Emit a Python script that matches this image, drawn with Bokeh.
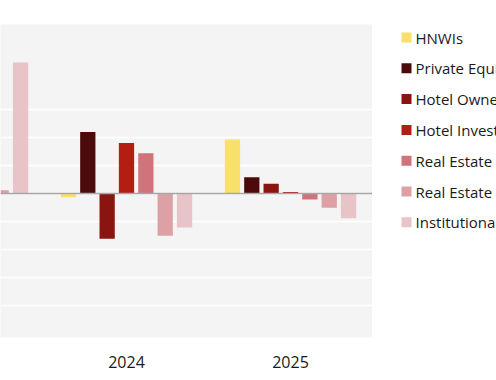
from bokeh.plotting import figure
from bokeh.layouts import row
from bokeh.models import Range1d, Grid, FixedTicker, Span, ColumnDataSource
from bokeh.core.properties import value
from bokeh.embed import file_html
from bokeh.resources import INLINE

nan = float("nan")
years = ["2023", "2024", "2025"]
series = ["HNWIs", "Private Equity", "Hotel Owners/Operators", "Hotel Investors",
          "Real Estate Developers", "Real Estate Funds", "Institutional Investors"]
colors = ["#F9E06B", "#4D0A0A", "#8A1410", "#B41E12", "#D0737A", "#DDA0A5", "#E8C3C7"]

# 2023 values of the first five series lie outside the visible (cropped) area
hnwis = [nan, -1.3, 19.3]
private_equity = [nan, 22.0, 5.8]
hotel_owners = [nan, -16.2, 3.5]
hotel_investors = [nan, 18.0, 0.5]
re_developers = [nan, 14.4, -2.1]
re_funds = [1.2, -15.1, -5.1]
institutional = [46.8, -12.1, -8.8]

values = [hnwis, private_equity, hotel_owners, hotel_investors,
          re_developers, re_funds, institutional]
grid_ticks = [-40, -30, -20, -10, 0, 10, 20, 30]

pitch = 0.118
bar_w = 0.093

p = figure(width=372, height=380, output_backend="svg", toolbar_location=None,
           x_range=Range1d(1 - 126 / 164, 2.5), y_range=Range1d(-51.43, 60.36),
           y_axis_location=None, min_border_left=0, min_border_right=0,
           min_border_top=24, min_border_bottom=43)
p.background_fill_color = "#F4F4F4"
p.border_fill_color = "white"
p.outline_line_color = None
p.xgrid.visible = False
p.ygrid.visible = False

p.add_layout(Grid(dimension=1, ticker=FixedTicker(ticks=grid_ticks),
                  grid_line_color="white", grid_line_width=1.5))

for i, (name, col, vals) in enumerate(zip(series, colors, values)):
    xs = [g + (i - 3) * pitch for g in range(len(years))]
    src = ColumnDataSource(dict(x=xs, top=vals))
    p.vbar(x="x", top="top", bottom=0, width=bar_w, source=src,
           fill_color=col, line_color=None)

p.add_layout(Span(location=0, dimension="width", line_color="#A6A6A6", line_width=1.5))

p.xaxis.ticker = FixedTicker(ticks=[0, 1, 2])
p.xaxis.major_label_overrides = {0: years[0], 1: years[1], 2: years[2]}
p.xaxis.axis_line_color = None
p.xaxis.major_tick_line_color = None
p.xaxis.minor_tick_line_color = None
p.xaxis.major_label_standoff = 12
p.xaxis.major_label_text_font = "Open Sans"
p.xaxis.major_label_text_font_size = "16px"
p.xaxis.major_label_text_color = "#1A1A1A"

# legend panel (its frame is aligned with the chart frame: y 24..337 in screen px)
lg = figure(width=124, height=380, output_backend="svg", toolbar_location=None,
            x_range=Range1d(0, 124), y_range=Range1d(337, 24),
            x_axis_location=None, y_axis_location=None,
            min_border_left=0, min_border_right=0, min_border_top=24, min_border_bottom=43)
lg.outline_line_color = None
lg.xgrid.visible = False
lg.ygrid.visible = False
lg.background_fill_color = "white"
lg.border_fill_color = "white"

row_y = [37 + 30.8 * i for i in range(len(series))]
lsrc = ColumnDataSource(dict(x=[34] * len(series), tx=[43] * len(series),
                             y=row_y, color=colors, label=series))
lg.rect(x="x", y="y", width=10, height=10, fill_color="color", line_color=None, source=lsrc)
lg.text(x="tx", y="y", text="label", source=lsrc, text_baseline="middle",
        text_font=value("Open Sans"), text_font_size="15px", text_color="#1A1A1A")

layout = row(p, lg, spacing=0)
open("out.html", "w").write(file_html(layout, INLINE))
